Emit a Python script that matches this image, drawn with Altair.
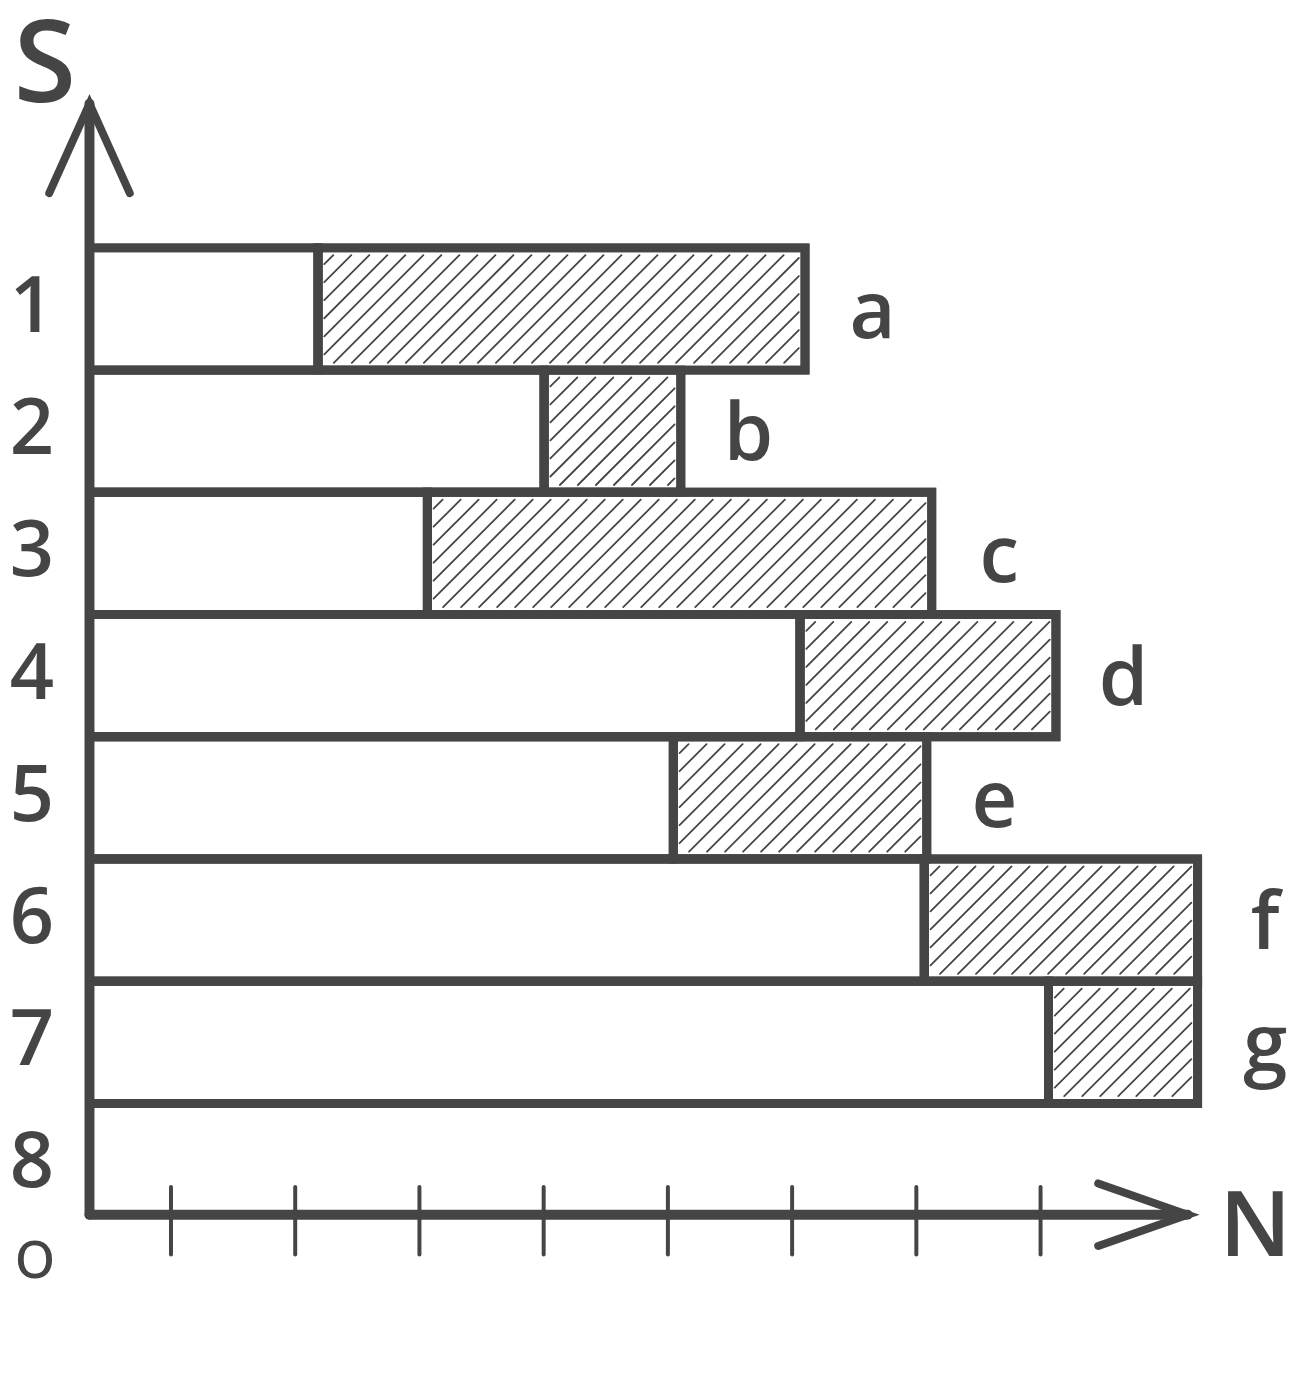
import altair as alt
import pandas as pd
import numpy as np

# ---- data ----
rows = [1, 2, 3, 4, 5, 6, 7]
letters = ["a", "b", "c", "d", "e", "f", "g"]
white_end = [18.4, 36.6, 27.2, 57.2, 47.0, 67.2, 77.2]
total_end = [57.6, 47.6, 67.8, 77.8, 67.4, 89.2, 89.2]
row_labels = ["1", "2", "3", "4", "5", "6", "7", "8"]
row_label_pos = [1, 2, 3, 4, 5, 6, 7, 8]
tick_positions = [6.56, 16.56, 26.56, 36.56, 46.56, 56.56, 66.56, 76.56]

X_MAX = 95.2
Y_TOP = -0.68
Y_BOTTOM = 8.41
X_AXIS_END = 88.4

C = "#454545"
FONT = "Open Sans"

xs = alt.Scale(domain=[0, X_MAX], nice=False, zero=False)
ys = alt.Scale(domain=[Y_BOTTOM, Y_TOP], nice=False, zero=False)

def X(f):
    return alt.X(f, type="quantitative", scale=xs, axis=None)

def Y(f):
    return alt.Y(f, type="quantitative", scale=ys, axis=None)

# bars
bar_rows = []
for r, w, t in zip(rows, white_end, total_end):
    bar_rows.append(dict(start=0, end=w, y0=r - 0.5, y1=r + 0.5, kind="white"))
    bar_rows.append(dict(start=w, end=t, y0=r - 0.5, y1=r + 0.5, kind="hatch"))
bars = pd.DataFrame(bar_rows)

# hatching texture inside hatched segments (decoration derived from the bars)
H = 9.84      # x-units spanned by a 45-degree line over one row height
STEP = 1.45
INSET_X = 0.5
INSET_Y = 0.06
hatch = []
for r, w, t in zip(rows, white_end, total_end):
    s, e = w + INSET_X, t - INSET_X
    yb, yt = r + 0.5 - INSET_Y, r - 0.5 + INSET_Y
    hh = H * (yb - yt)
    for c in np.arange(s - hh + STEP * 0.5, e, STEP):
        xb, ybb = c, yb
        xt, ytt = c + hh, yt
        if xb < s:
            ybb = yb - (s - xb) / hh * (yb - yt)
            xb = s
        if xt > e:
            ytt = yt + (xt - e) / hh * (yb - yt)
            xt = e
        if xt - xb > 0.3:
            hatch.append(dict(x=xb, x2=xt, y=ybb, y2=ytt))
hatch = pd.DataFrame(hatch)

rect_fill = alt.Chart(bars).mark_rect(fill="white", stroke=C, strokeWidth=9).encode(
    x=X("start"), x2="end", y=Y("y0"), y2="y1")
hatch_layer = alt.Chart(hatch).mark_rule(stroke=C, strokeWidth=1.8, strokeCap="round").encode(
    x=X("x"), x2="x2", y=Y("y"), y2="y2")
rect_outline = alt.Chart(bars).mark_rect(fillOpacity=0, stroke=C, strokeWidth=9).encode(
    x=X("start"), x2="end", y=Y("y0"), y2="y1")

# axes
yaxis = alt.Chart(pd.DataFrame({"x": [0], "y": [Y_TOP], "y2": [Y_BOTTOM]})).mark_rule(
    stroke=C, strokeWidth=10, strokeCap="round").encode(x=X("x"), y=Y("y"), y2="y2")
xaxis = alt.Chart(pd.DataFrame({"x": [0], "x2": [X_AXIS_END], "y": [Y_BOTTOM]})).mark_rule(
    stroke=C, strokeWidth=10, strokeCap="round").encode(x=X("x"), x2="x2", y=Y("y"))

up_arrow = alt.Chart(pd.DataFrame({"x": [0], "y": [Y_TOP]})).mark_point(
    shape="M -0.9 1 L 0 -1 L 0.9 1", size=8100, filled=False, stroke=C,
    strokeWidth=8, strokeCap="round", opacity=1, yOffset=45).encode(x=X("x"), y=Y("y"))
right_arrow = alt.Chart(pd.DataFrame({"x": [X_AXIS_END], "y": [Y_BOTTOM]})).mark_point(
    shape="M -1 -0.7 L 1 0 L -1 0.7", size=8100, filled=False, stroke=C,
    strokeWidth=8, strokeCap="round", opacity=1, xOffset=-45).encode(x=X("x"), y=Y("y"))

ticks = alt.Chart(pd.DataFrame({"x": tick_positions, "y": [Y_BOTTOM] * len(tick_positions)})).mark_rule(
    stroke=C, strokeWidth=4, strokeCap="round", yOffset=-28, y2Offset=40).encode(
    x=X("x"), y=Y("y"), y2="y")

# texts
row_text = alt.Chart(pd.DataFrame({"t": row_labels, "y": row_label_pos, "x": [0] * 8})).mark_text(
    font=FONT, fontSize=78, fontWeight=600, color=C, align="center", baseline="middle",
    dx=-58, dy=0).encode(x=X("x"), y=Y("y"), text="t:N")

letter_text = alt.Chart(pd.DataFrame({"t": letters, "x": total_end, "y": rows})).mark_text(
    font=FONT, fontSize=80, fontWeight=600, color=C, align="center", baseline="middle",
    dx=68, dy=5).encode(x=X("x"), y=Y("y"), text="t:N")

s_text = alt.Chart(pd.DataFrame({"t": ["S"], "x": [0], "y": [Y_TOP]})).mark_text(
    font=FONT, fontSize=114, fontWeight=600, color=C, align="center", baseline="alphabetic",
    dx=-45, dy=-2).encode(x=X("x"), y=Y("y"), text="t:N")
n_text = alt.Chart(pd.DataFrame({"t": ["N"], "x": [X_AXIS_END], "y": [Y_BOTTOM]})).mark_text(
    font=FONT, fontSize=92, fontWeight=600, color=C, align="center", baseline="middle",
    dx=68, dy=14).encode(x=X("x"), y=Y("y"), text="t:N")
o_text = alt.Chart(pd.DataFrame({"t": ["o"], "x": [0], "y": [Y_BOTTOM]})).mark_text(
    font=FONT, fontSize=70, fontWeight=400, color=C, align="center", baseline="alphabetic",
    dx=-55, dy=64).encode(x=X("x"), y=Y("y"), text="t:N")

chart = alt.layer(
    rect_fill, hatch_layer, rect_outline, yaxis, xaxis, up_arrow, right_arrow, ticks,
    row_text, letter_text, s_text, n_text, o_text
).properties(
    width=1190, height=1118,
    padding={"left": 82, "top": 92, "right": 20, "bottom": 150},
    autosize=alt.AutoSizeParams(type="none"),
    background="white",
).configure_view(stroke=None)

chart.save("out.html", embed_options={"renderer": "svg", "actions": False})
